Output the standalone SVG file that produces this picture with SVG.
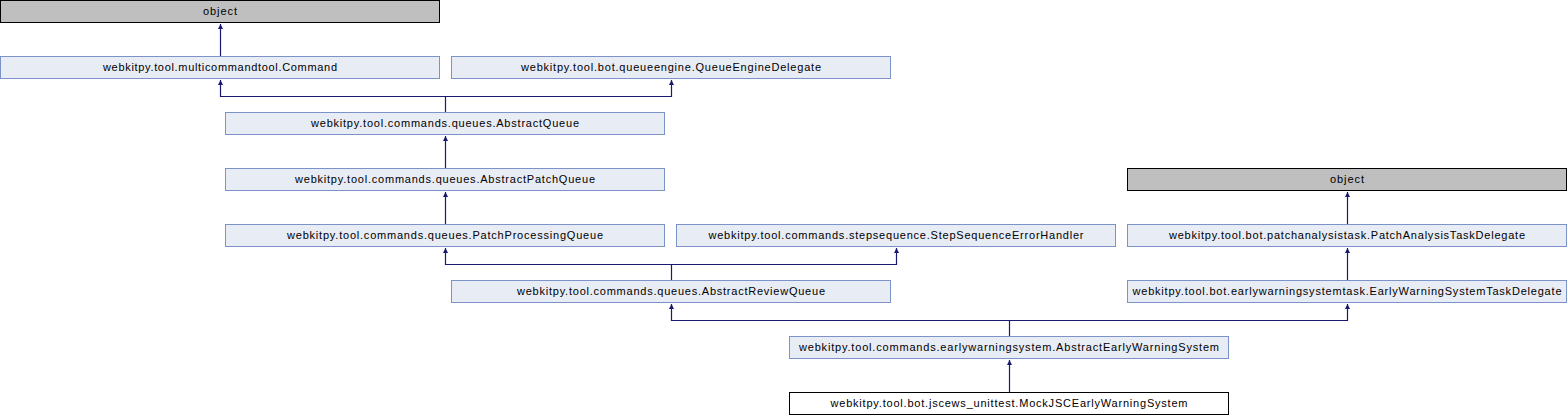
<svg xmlns="http://www.w3.org/2000/svg" width="1568" height="416" viewBox="0 0 1568 416">
<style>
.n rect{fill:#E8ECF5;stroke:#7B93C9;stroke-width:1}
.g rect{fill:#BFBFBF;stroke:#000;stroke-width:1}
.w rect{fill:#FFF;stroke:#000;stroke-width:1}
text{font-family:"Liberation Sans",Arial,sans-serif;font-size:11px;fill:#000;text-anchor:middle}
.e path{fill:none;stroke:#191970;stroke-width:1.2;marker-end:url(#ah)}
</style>
<defs>
<marker id="ah" viewBox="0 0 10 10" refX="10" refY="5" markerWidth="6" markerHeight="5" orient="auto" markerUnits="userSpaceOnUse">
<path d="M0,0 L10,5 L0,10 Z" fill="#191970"/>
</marker>
</defs>
<g id="edges" class="e">
<path d="M220.5,56 V24"/>
<path d="M445.5,112 V96.5 H220.5 V80"/>
<path d="M445.5,96.5 H671.5 V80"/>
<path d="M445.5,168 V136"/>
<path d="M445.5,224 V192"/>
<path d="M671.5,280 V264.5 H445.5 V248"/>
<path d="M671.5,264.5 H896.5 V248"/>
<path d="M1347.5,224 V192"/>
<path d="M1347.5,280 V248"/>
<path d="M1009.5,336 V320.5 H671.5 V304"/>
<path d="M1009.5,320.5 H1347.5 V304"/>
<path d="M1009.5,392 V360"/>
</g>
<g id="object1" class="g"><rect x="0.5" y="0.5" width="439" height="22"/><text x="220" y="15" textLength="34" lengthAdjust="spacing">object</text></g>
<g id="command" class="n"><rect x="0.5" y="56.5" width="439" height="22"/><text x="220" y="71" textLength="234" lengthAdjust="spacing">webkitpy.tool.multicommandtool.Command</text></g>
<g id="queueEngineDelegate" class="n"><rect x="451.5" y="56.5" width="439" height="22"/><text x="671" y="71" textLength="300" lengthAdjust="spacing">webkitpy.tool.bot.queueengine.QueueEngineDelegate</text></g>
<g id="abstractQueue" class="n"><rect x="225.5" y="112.5" width="439" height="22"/><text x="445" y="127" textLength="268" lengthAdjust="spacing">webkitpy.tool.commands.queues.AbstractQueue</text></g>
<g id="abstractPatchQueue" class="n"><rect x="225.5" y="168.5" width="439" height="22"/><text x="445" y="183" textLength="300" lengthAdjust="spacing">webkitpy.tool.commands.queues.AbstractPatchQueue</text></g>
<g id="patchProcessingQueue" class="n"><rect x="225.5" y="224.5" width="439" height="22"/><text x="445" y="239" textLength="316" lengthAdjust="spacing">webkitpy.tool.commands.queues.PatchProcessingQueue</text></g>
<g id="stepSequenceErrorHandler" class="n"><rect x="676.5" y="224.5" width="439" height="22"/><text x="896" y="239" textLength="375" lengthAdjust="spacing">webkitpy.tool.commands.stepsequence.StepSequenceErrorHandler</text></g>
<g id="abstractReviewQueue" class="n"><rect x="451.5" y="280.5" width="439" height="22"/><text x="671" y="295" textLength="308" lengthAdjust="spacing">webkitpy.tool.commands.queues.AbstractReviewQueue</text></g>
<g id="object2" class="g"><rect x="1127.5" y="168.5" width="439" height="22"/><text x="1347" y="183" textLength="34" lengthAdjust="spacing">object</text></g>
<g id="patchAnalysisTaskDelegate" class="n"><rect x="1127.5" y="224.5" width="439" height="22"/><text x="1347" y="239" textLength="356" lengthAdjust="spacing">webkitpy.tool.bot.patchanalysistask.PatchAnalysisTaskDelegate</text></g>
<g id="earlyWarningSystemTaskDelegate" class="n"><rect x="1127.5" y="280.5" width="439" height="22"/><text x="1347" y="295" textLength="429" lengthAdjust="spacing">webkitpy.tool.bot.earlywarningsystemtask.EarlyWarningSystemTaskDelegate</text></g>
<g id="abstractEarlyWarningSystem" class="n"><rect x="789.5" y="336.5" width="439" height="22"/><text x="1009" y="351" textLength="420" lengthAdjust="spacing">webkitpy.tool.commands.earlywarningsystem.AbstractEarlyWarningSystem</text></g>
<g id="mockJSCEarlyWarningSystem" class="w"><rect x="789.5" y="392.5" width="439" height="22"/><text x="1009" y="407" textLength="357" lengthAdjust="spacing">webkitpy.tool.bot.jscews_unittest.MockJSCEarlyWarningSystem</text></g>
</svg>
